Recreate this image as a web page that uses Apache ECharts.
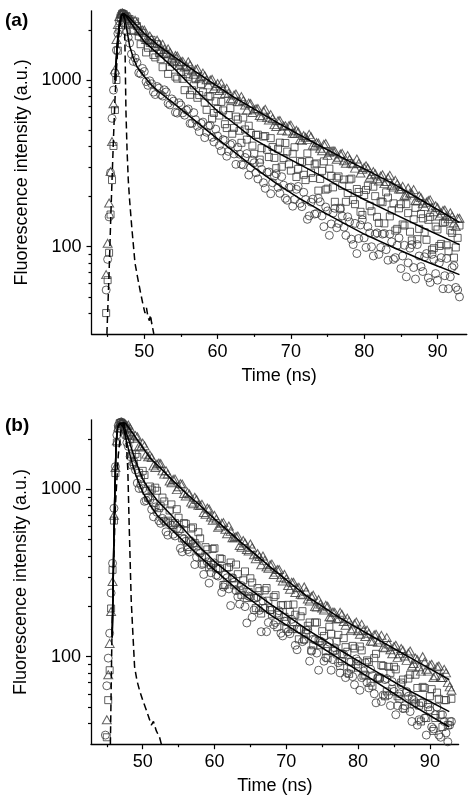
<!DOCTYPE html>
<html><head><meta charset="utf-8">
<script src="https://cdn.jsdelivr.net/npm/echarts@6/dist/echarts.min.js"></script>
<style>html,body{margin:0;padding:0;background:#fff}#c{width:475px;height:807px}</style>
</head><body><div id="c"></div>
<script>
// ---- data: time channels (ns) ----
const dataTimes = [44.8,45.0,45.2,45.4,45.6,45.8,46.0,46.2,46.4,46.6,46.8,47.0,47.2,47.4,47.6,47.8,
48.0,48.5,49.0,49.5,50.0,50.5,51.0,51.5,52.0,52.5,53.0,53.5,54.0,54.5,55.0,55.5,56.0,56.5,57.0,57.5,
58.0,58.5,59.0,59.5,60.0,60.5,61.0,61.5,62.0,62.5,63.0,63.5,64.0,64.5,65.0,65.5,66.0,66.5,67.0,67.5,
68.0,68.5,69.0,69.5,70.0,70.5,71.0,71.5,72.0,72.5,73.0,73.5,74.0,74.5,75.0,75.5,76.0,76.5,77.0,77.5,
78.0,78.5,79.0,79.5,80.0,80.5,81.0,81.5,82.0,82.5,83.0,83.5,84.0,84.5,85.0,85.5,86.0,86.5,87.0,87.5,
88.0,88.5,89.0,89.5,90.0,90.5,91.0,91.5,92.0,92.5,93.0];
const midTimes = [48.25,48.75,49.25,49.75,50.25,50.75,51.25,51.75,52.25,52.75,
53.25,53.75,54.25,54.75,55.25,55.75,56.25,56.75,57.25,57.75,
58.25,58.75,59.25,59.75,60.25,60.75,61.25,61.75,62.25,62.75,
63.25,63.75,64.25,64.75,65.25,65.75,66.25,66.75,67.25,67.75,
68.25,68.75,69.25,69.75,70.25,70.75,71.25,71.75,72.25,72.75,
73.25,73.75,74.25,74.75,75.25,75.75,76.25,76.75,77.25,77.75,
78.25,78.75,79.25,79.75,80.25,80.75,81.25,81.75,82.25,82.75,
83.25,83.75,84.25,84.75,85.25,85.75,86.25,86.75,87.25,87.75,
88.25,88.75,89.25,89.75,90.25,90.75,91.25,91.75,92.25,92.75];

// panel (a) measured decays (on dataTimes, then on midTimes)
const triA = [68,105,183,282,427,720,1150,1750,2150,2400,2500,2520,2480,2450,2420,2380,
2400,2160,2200,1965,1995,1747,1761,1587,1648,1637,1445,1466,1304,1392,1291,1196,1286,1137,1154,1029,
1099,1002,999,889,952,956,829,835,768,824,739,754,660,723,662,675,599,667,576,588,
526,572,530,494,536,478,488,433,453,472,408,421,390,411,353,374,375,344,363,317,
335,314,336,277,299,296,270,274,248,270,246,268,228,238,222,203,225,209,189,202,
182,185,191,162,172,159,166,147,152,132,148];
const triAmid = [2266,2279,1976,1991,1748,1835,1673,1733,1525,1532,
1536,1356,1403,1222,1293,1212,1228,1083,1167,1044,
1060,935,1010,921,864,887,891,772,812,742,
795,707,727,638,672,613,652,597,620,540,
569,499,532,533,479,500,439,464,439,457,
402,419,376,416,368,376,335,360,328,352,
318,296,316,291,306,261,282,256,265,239,
259,234,250,222,230,204,210,220,188,197,
174,189,171,176,153,165,153,160,139,148];
const sqA = [40,63,92,156,251,402,661,1000,1500,2000,2350,2500,2480,2420,2330,2280,
2318,1969,2106,1639,1785,1560,1740,1366,1448,1193,1425,1199,1345,1020,1117,869,1046,868,1010,812,
845,662,795,634,670,739,543,616,476,603,496,595,439,481,361,470,390,461,345,396,
296,421,340,372,286,395,293,322,251,326,258,316,255,325,223,266,186,264,232,186,
253,191,222,162,204,232,163,201,139,185,212,152,182,128,180,134,159,109,171,128,
148,110,151,98,127,104,141,94,121,99,134];
const sqAmid = [1998,2244,1828,1918,1463,1668,1413,1641,1332,1431,
1088,1280,1047,1256,1016,1084,815,928,782,947,
732,800,587,746,612,657,515,678,516,580,
420,505,532,404,468,333,458,382,448,341,
387,302,419,312,361,262,327,270,363,278,
312,217,285,220,294,227,259,171,253,210,
256,180,213,155,219,176,229,151,187,138,
197,165,125,170,136,180,123,146,111,157,
122,145,96,132,101,139,102,125,86,113];
const cirA = [55,84,151,278,589,870,1100,1510,1900,2250,2450,2520,2480,2200,1950,1800,
1664,1292,1272,1088,1124,929,949,818,893,801,848,709,747,633,708,615,670,549,578,490,
559,486,534,425,461,375,434,373,416,312,359,309,362,298,319,255,291,224,281,242,
274,209,234,190,228,192,230,174,192,153,193,158,186,132,164,137,170,138,153,117,
141,103,91,135,113,132,100,119,90,119,96,119,84,102,74,102,80,103,64,88,
71,91,61,84,63,86,67,56,75,57,50];
const cirAmid = [1431,1354,1103,1173,978,988,846,914,817,873,
724,770,640,730,635,659,549,637,528,549,
451,530,453,507,405,439,349,409,360,395,
312,343,269,331,278,319,242,279,208,265,
227,263,195,226,175,221,182,212,146,185,
157,195,153,173,117,159,130,168,131,151,
111,138,112,145,99,121,88,121,99,120,
83,107,86,113,88,66,98,75,103,76,
87,65,90,69,80,56,85,66,77,55];

// panel (b) measured decays
const triB = [null,42,78,120,186,281,700,1350,1950,2350,2480,2520,2500,2480,2450,2400,
2420,2107,2091,1815,1887,1622,1602,1380,1414,1426,1232,1233,1093,1151,1035,1076,912,937,820,868,
800,726,773,682,698,592,627,577,603,513,522,461,494,437,471,406,413,354,376,337,
357,320,332,283,292,253,278,258,236,261,221,229,199,219,195,203,173,185,168,184,
162,170,144,157,143,156,132,138,123,136,126,114,130,110,115,99,112,101,105,88,
98,87,100,84,89,75,87,75,84,70,63];
const triBmid = [2317,2016,2059,1790,1820,1565,1549,1348,1434,1288,
1289,1120,1145,995,1081,944,958,838,896,801,
813,709,762,653,664,604,632,542,562,513,
526,451,478,428,448,385,397,399,344,354,
310,332,298,310,266,278,242,260,234,246,
215,233,198,206,190,200,172,184,169,179,
154,163,147,161,136,144,144,124,135,122,
134,113,119,104,117,104,109,95,108,91,
96,82,93,82,90,77,88,75,80,66];
const sqB = [null,33,55,83,194,330,650,1250,1900,2300,2480,2500,2450,2350,2250,2120,
2100,1617,1628,1253,1288,977,1039,826,980,792,846,649,812,629,676,509,622,493,592,456,
509,360,437,353,444,335,383,269,343,294,355,249,286,224,294,224,257,181,249,216,
179,233,178,203,147,185,205,146,174,127,153,109,160,124,142,108,151,108,123,88,
129,107,85,112,86,109,78,93,67,104,75,88,62,80,87,58,70,49,74,56,
78,51,66,43,58,36,61,45,55,39,56];
const sqBmid = [1990,1456,1559,1154,1217,888,996,1022,771,892,
635,747,613,760,579,628,452,583,478,554,
391,451,342,440,338,387,268,340,365,267,
311,234,323,243,277,195,246,195,257,190,
227,150,203,173,204,146,178,127,187,137,
160,117,160,117,133,98,137,109,135,94,
114,79,116,90,115,77,95,70,98,74,
89,58,87,64,84,56,73,61,78,52,
65,41,65,50,64,43,56,38,55,41];
const cirB = [34,67,98,138,240,361,770,1365,2110,2400,2500,2520,2450,2300,2100,1900,
1803,1392,1304,1011,1008,856,867,685,728,626,647,532,610,526,565,423,489,422,472,393,
415,310,368,317,363,303,242,308,254,296,248,206,253,159,228,190,227,141,195,160,
191,160,188,133,163,137,161,110,145,126,144,108,126,83,122,99,122,96,103,80,
103,80,93,68,94,75,92,65,77,53,74,59,74,51,62,51,68,51,58,41,
53,42,53,34,48,37,50,33,41,31,41];
const cirBmid = [1568,1407,1089,1065,847,897,758,784,649,670,
557,630,539,583,444,505,436,487,355,424,
355,395,275,357,307,337,261,296,202,279,
228,266,199,230,172,224,189,215,141,189,
155,182,138,163,141,167,117,146,123,144,
94,127,105,124,94,114,83,113,92,104,
75,93,76,97,63,82,70,84,60,75,
54,73,59,71,45,60,49,62,47,55,
39,53,43,52,38,45,34,45,35,39];

// fitted curves
const fitTimesA = [46.0,46.3,46.6,46.9,47.2,47.5,47.8,48.0,48.5,49,50,51,52,54,56,58,60,62,65,68,71,74,77,80,84,88,93];
const triFitA = [1000,1600,2150,2450,2500,2450,2400,2350,2228,2113,1900,1744,1600,1387,1202,1047,915,800,669,560,474,402,342,293,238,188,140];
const sqFitA  = [950,1550,2100,2420,2500,2420,2320,2250,2095,1950,1700,1554,1420,1180,960,790,650,560,440,370,315,268,225,192,158,130,103];
const cirFitA = [1000,1650,2200,2480,2500,2150,1800,1600,1360,1200,1050,930,850,725,615,522,443,378,298,240,197,165,140,119,99,83,68];
const fitTimesB = [45.75,45.85,46.0,46.15,46.3,46.5,46.8,47.0,47.3,47.6,48,48.5,49,50,51,52,54,56,58,60,63.5,68,72.8,77.4,82,87,92.7];
const triFitB = [130,220,550,1100,1900,2350,2480,2500,2500,2480,2350,2195,2050,1780,1540,1400,1150,950,800,665,490,337,231,171,132,100,73];
const sqFitB  = [130,220,550,1100,1850,2300,2470,2500,2450,2250,2000,1720,1480,1150,980,860,700,560,450,370,280,203,146,110,84,63,47];
const cirFitB = [130,220,550,1100,1900,2350,2480,2500,2350,2050,1750,1450,1230,960,810,700,575,475,395,330,245,175,130,97,73,53,38];

// instrument response (dashed)
const irfTimesA = [44.9,45.2,45.45,45.6,45.8,46.0,46.2,46.46,46.8,47.1,47.3,47.4,47.5,47.65,47.82,48.0,48.3,48.73,49.1,49.42,49.87,50.1,50.3,50.5,50.7,50.85,51.0,51.3];
const irfA = [30,70,160,250,450,760,1150,1740,2300,2500,2300,1300,650,380,250,190,130,80,65,55,44,40,43,38,36,39,35,30];
const irfTimesB = [45.5,45.6,45.7,45.9,46.2,46.6,47.0,47.4,47.7,47.93,48.1,48.4,48.63,48.87,49.2,49.56,50.0,50.5,50.8,51.2,51.5,51.9,52.35,52.6];
const irfB = [30,60,120,300,800,1600,2300,2500,2000,1300,650,218,138,87,72,63,55,48,44,39,41,36,33,30];

// axis ticks
const xMajor = [50,60,70,80,90];
const xMinor = [45,55,65,75,85];
const yMajor = [100,1000];
const yMinor = [40,50,60,70,80,90,200,300,400,500,600,700,800,900,2000];

// ---- chart ----
const FONT = "'Liberation Sans', Arial, Helvetica, sans-serif";
const pairs = (ts, vs) => ts.map((t, i) => [t, vs[i]]).filter(p => p[1] != null);
const chart = echarts.init(document.getElementById('c'), null, {renderer: 'canvas'});

const grids = [
  {left: 91.5, top: 10.8, width: 375.3, height: 323.1},
  {left: 91, top: 419.8, width: 367.6, height: 324.4}
];
const X_MIN = 42.8, X_MAX = 94, Y_MIN = 30, Y_MAX = 2600;
const axisLineStyle = {color: '#000', width: 1.3};
const tickStyle = {color: '#000', width: 1.2};
const labelStyle = {fontSize: 18, color: '#000', fontFamily: FONT};

function xAxesFor(g) {
  return [
    {type: 'value', gridIndex: g, position: 'bottom', min: X_MIN, max: X_MAX,
     name: 'Time (ns)', nameLocation: 'middle', nameGap: 33,
     nameTextStyle: {fontSize: 18, color: '#000', fontFamily: FONT},
     axisLine: {show: true, onZero: false, lineStyle: axisLineStyle},
     axisTick: {show: true, length: 5, customValues: xMajor, lineStyle: tickStyle},
     axisLabel: Object.assign({customValues: xMajor, margin: 9}, labelStyle),
     splitLine: {show: false}},
    {type: 'value', gridIndex: g, position: 'bottom', min: X_MIN, max: X_MAX,
     axisLine: {show: false, onZero: false},
     axisTick: {show: true, length: 3, customValues: xMinor, lineStyle: tickStyle},
     axisLabel: {show: false}, splitLine: {show: false}}
  ];
}
function yAxesFor(g, logSpace) {
  const cv = arr => logSpace ? arr.map(v => Math.log10(v)) : arr;
  return [
    {type: 'log', logBase: 10, gridIndex: g, position: 'left', min: Y_MIN, max: Y_MAX,
     name: 'Fluorescence intensity (a.u.)', nameLocation: 'middle', nameGap: 60,
     nameTextStyle: {fontSize: 18, color: '#000', fontFamily: FONT},
     axisLine: {show: true, onZero: false, lineStyle: axisLineStyle},
     axisTick: {show: true, length: 5, customValues: cv(yMajor), lineStyle: tickStyle},
     axisLabel: Object.assign({customValues: cv(yMajor), margin: 10,
       formatter: v => String(Math.round(v < 10 ? Math.pow(10, v) : v))}, labelStyle),
     splitLine: {show: false}, minorTick: {show: false}},
    {type: 'log', logBase: 10, gridIndex: g, position: 'left', min: Y_MIN, max: Y_MAX,
     axisLine: {show: false, onZero: false},
     axisTick: {show: true, length: 3, customValues: cv(yMinor), lineStyle: tickStyle},
     axisLabel: {show: false}, splitLine: {show: false}}
  ];
}

function scatter(xi, yi, vs, vsMid, symbol, size) {
  return {type: 'scatter', xAxisIndex: xi, yAxisIndex: yi,
    data: pairs(dataTimes, vs).concat(pairs(midTimes, vsMid)),
    symbol: symbol, symbolSize: size, silent: true, z: 2,
    itemStyle: {color: 'rgba(0,0,0,0)', borderColor: '#3a3a3a', borderWidth: 1}};
}
function fit(xi, yi, ts, vs) {
  return {type: 'line', xAxisIndex: xi, yAxisIndex: yi, data: pairs(ts, vs),
    symbol: 'none', showSymbol: false, smooth: false, silent: true, z: 4,
    lineStyle: {color: '#000', width: 1.5}};
}
function irf(xi, yi, ts, vs) {
  return {type: 'line', xAxisIndex: xi, yAxisIndex: yi, data: pairs(ts, vs),
    symbol: 'none', showSymbol: false, silent: true, z: 5,
    lineStyle: {color: '#000', width: 1.5, type: [7, 4]}};
}

function buildY(logSpace) { return yAxesFor(0, logSpace).concat(yAxesFor(1, logSpace)); }

const option = {
  animation: false,
  backgroundColor: '#fff',
  title: [
    {text: '(a)', left: 5, top: 11, padding: 0, textStyle: {fontSize: 19, fontWeight: 'bold', color: '#000', fontFamily: FONT}},
    {text: '(b)', left: 5, top: 416, padding: 0, textStyle: {fontSize: 19, fontWeight: 'bold', color: '#000', fontFamily: FONT}}
  ],
  grid: grids,
  xAxis: xAxesFor(0).concat(xAxesFor(1)),
  yAxis: buildY(false),
  series: [
    scatter(0, 0, cirA, cirAmid, 'circle', 8),
    scatter(0, 0, sqA, sqAmid, 'rect', 7),
    scatter(0, 0, triA, triAmid, 'triangle', [9, 8]),
    fit(0, 0, fitTimesA, cirFitA),
    fit(0, 0, fitTimesA, sqFitA),
    fit(0, 0, fitTimesA, triFitA),
    irf(0, 0, irfTimesA, irfA),
    scatter(2, 2, cirB, cirBmid, 'circle', 8),
    scatter(2, 2, sqB, sqBmid, 'rect', 7),
    scatter(2, 2, triB, triBmid, 'triangle', [9, 8]),
    fit(2, 2, fitTimesB, cirFitB),
    fit(2, 2, fitTimesB, sqFitB),
    fit(2, 2, fitTimesB, triFitB),
    irf(2, 2, irfTimesB, irfB)
  ]
};
chart.setOption(option);

// If the log axis interprets custom tick values in log space, re-supply them that way.
try {
  const am = chart.getModel().getComponent('yAxis', 0);
  const ticks = am.axis.getTicksCoords();
  if (!ticks || ticks.length === 0) {
    chart.setOption({yAxis: buildY(true)});
  }
} catch (e) {}
</script>
</body></html>
